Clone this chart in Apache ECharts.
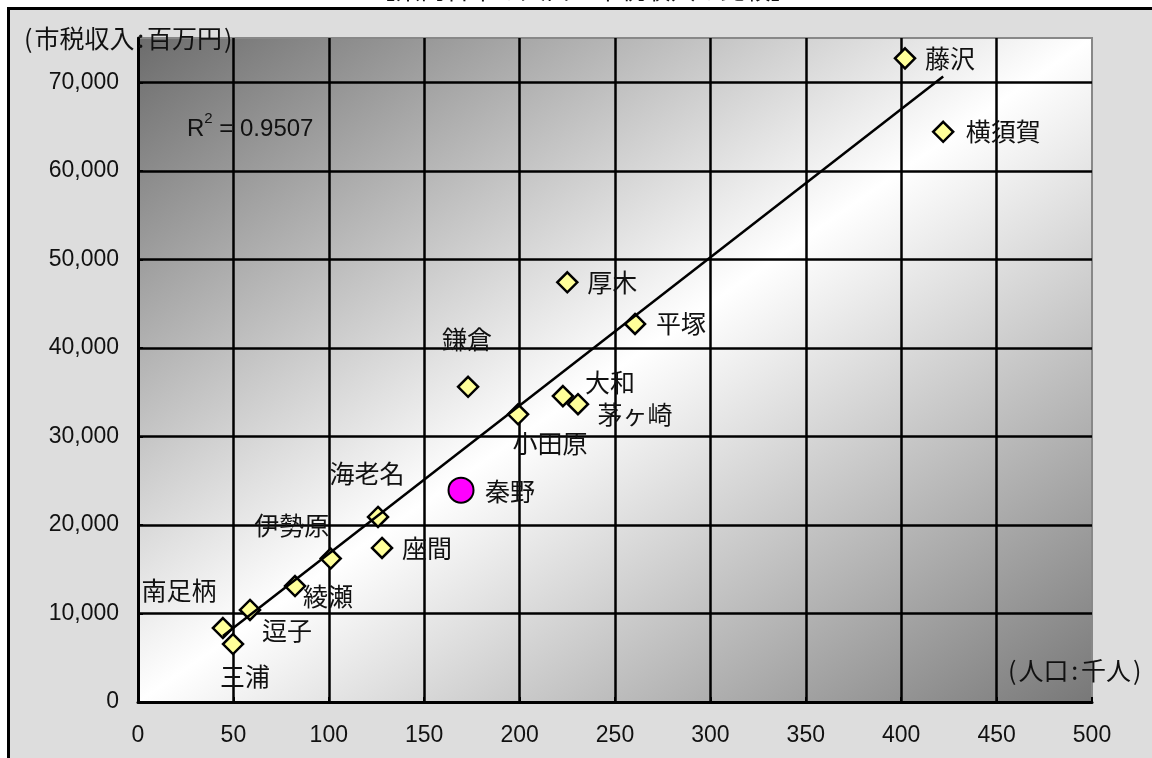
<!DOCTYPE html>
<html>
<head>
<meta charset="utf-8">
<script src="https://cdn.jsdelivr.net/npm/echarts@6/dist/echarts.min.js"></script>
<style>
  html, body { margin: 0; padding: 0; background: #ffffff; }
  #chart { width: 1152px; height: 758px; }
</style>
</head>
<body>
<div id="chart"></div>
<script>
// 県内各市：人口（千人）と市税収入（百万円）
const cities      = ['藤沢', '横須賀', '厚木', '平塚', '鎌倉', '大和', '茅ヶ崎', '小田原', '海老名', '座間', '伊勢原', '綾瀬', '逗子', '南足柄', '三浦'];
const population  = [402, 422, 225, 260.5, 173, 222.7, 230.6, 199.2, 125.8, 127.9, 101, 82.3, 58.7, 44.5, 49.8];
const taxRevenue  = [72700, 64400, 47400, 42700, 35600, 34550, 33640, 32500, 20900, 17400, 16200, 13100, 10400, 8350, 6550];

// 強調表示する市
const focusCity       = '秦野';
const focusPopulation = 169.3;
const focusTaxRevenue = 23930;

const rSquaredText = '0.9507';
const chartTitle   = '【県内各市の人口と市税収入の比較】';

// ラベルの位置（マーカー中心からのずれ, px）
const labelOffset = {
  '藤沢': [45, 0], '横須賀': [60, 0], '厚木': [45, 0], '平塚': [46, 0],
  '鎌倉': [-1, -47], '大和': [47, -14], '茅ヶ崎': [57, 10], '小田原': [32, 29],
  '海老名': [-11, -43], '座間': [45, 1], '伊勢原': [-39, -33], '綾瀬': [33, 10],
  '逗子': [37, 21], '南足柄': [-44, -38], '三浦': [12, 32]
};
const focusLabelOffset = [49, 1];

// 最小二乗法による近似直線
function linearFit(xs, ys) {
  const n = xs.length;
  const mx = xs.reduce((a, b) => a + b, 0) / n;
  const my = ys.reduce((a, b) => a + b, 0) / n;
  let sxy = 0, sxx = 0;
  for (let i = 0; i < n; i++) {
    sxy += (xs[i] - mx) * (ys[i] - my);
    sxx += (xs[i] - mx) * (xs[i] - mx);
  }
  const slope = sxy / sxx;
  return { slope, intercept: my - slope * mx };
}
const fit = linearFit(population, taxRevenue);
const xLo = Math.min(...population), xHi = Math.max(...population);
const trendData = [[xLo, fit.intercept + fit.slope * xLo], [xHi, fit.intercept + fit.slope * xHi]];

// プロット領域
const G = { left: 138, top: 38, right: 60, bottom: 56 };
const W = 1152, H = 758;
const pw = W - G.left - G.right, ph = H - G.top - G.bottom;

// 左上・右下が濃く、中央が白い斜めグラデーション
const cx = G.left + pw / 2, cy = G.top + ph / 2;
const len = Math.hypot(ph, pw);
const half = ((pw / 2) * ph + (ph / 2) * pw) / len;
const gdx = ph / len * half, gdy = pw / len * half;
const plotFill = new echarts.graphic.LinearGradient(
  cx - gdx, cy - gdy, cx + gdx, cy + gdy,
  [
    { offset: 0, color: '#6c6c6c' },
    { offset: 0.5, color: '#ffffff' },
    { offset: 1, color: '#787878' }
  ],
  true
);

const cjkFont = '"Noto Sans CJK JP", "Noto Sans", sans-serif';
const numFont = '"Liberation Sans", Arial, sans-serif';

const cityData = cities.map((name, i) => ({
  name,
  value: [population[i], taxRevenue[i]],
  label: { offset: labelOffset[name] }
}));

const halfWidth = { width: 12.5, align: 'center', fontSize: 25, fontFamily: cjkFont, fill: '#111' };

const chart = echarts.init(document.getElementById('chart'), null, { renderer: 'canvas' });
chart.setOption({
  animation: false,
  backgroundColor: 'transparent',
  grid: {
    left: G.left, top: G.top, right: G.right, bottom: G.bottom,
    containLabel: false,
    show: true,
    backgroundColor: plotFill,
    borderColor: '#888888',
    borderWidth: 2
  },
  xAxis: {
    type: 'value', min: 0, max: 500, interval: 50,
    axisLine: { show: true, onZero: false, lineStyle: { color: '#000', width: 3 } },
    axisTick: { show: true, inside: true, length: 5, lineStyle: { color: '#000', width: 2 } },
    axisLabel: { color: '#111', fontSize: 23, fontFamily: numFont, margin: 22 },
    splitLine: { show: true, showMinLine: false, showMaxLine: false, lineStyle: { color: '#000', width: 2.5 } }
  },
  yAxis: {
    type: 'value', min: 0, max: 75000, interval: 10000,
    axisLine: { show: true, onZero: false, lineStyle: { color: '#000', width: 3 } },
    axisTick: { show: true, inside: true, length: 5, lineStyle: { color: '#000', width: 2 } },
    axisLabel: {
      color: '#111', fontSize: 23, fontFamily: numFont, margin: 19,
      showMaxLabel: false,
      formatter: v => v.toLocaleString('en-US')
    },
    splitLine: { show: true, showMinLine: false, showMaxLine: false, lineStyle: { color: '#000', width: 2.5 } }
  },
  graphic: [
    {
      type: 'rect', z: -100, silent: true,
      shape: { x: 8.5, y: 8.5, width: 1300, height: 900 },
      style: { fill: '#dddddd', stroke: '#000000', lineWidth: 3 }
    },
    {
      type: 'text', z: -50, silent: true,
      style: {
        x: 583, y: 2, text: chartTitle,
        align: 'center', verticalAlign: 'bottom',
        font: '25px ' + cjkFont, fill: '#111'
      }
    },
    {
      type: 'text', z: 100, silent: true,
      style: {
        x: 22, y: 38, verticalAlign: 'middle',
        text: '{h|(}市税収入{h|:}百万円{h|)}',
        font: '25px ' + cjkFont, fill: '#111',
        rich: { h: halfWidth }
      }
    },
    {
      type: 'text', z: 100, silent: true,
      style: {
        x: 1006, y: 670, verticalAlign: 'middle',
        text: '{h|(}人口{h|:}千人{h|)}',
        font: '25px ' + cjkFont, fill: '#111',
        rich: { h: halfWidth }
      }
    },
    {
      type: 'text', z: 100, silent: true,
      style: {
        x: 187, y: 126, verticalAlign: 'middle',
        text: '{r|R}{s|2}{r| = ' + rSquaredText + '}',
        rich: {
          r: { fontSize: 24, fontFamily: numFont, fill: '#111', lineHeight: 30, verticalAlign: 'bottom' },
          s: { fontSize: 15, fontFamily: numFont, fill: '#111', verticalAlign: 'top' }
        }
      }
    }
  ],
  series: [
    {
      name: '各市',
      type: 'scatter',
      z: 2,
      symbol: 'diamond',
      symbolSize: 20,
      itemStyle: { color: '#ffff99', borderColor: '#000', borderWidth: 2.5, opacity: 1 },
      label: {
        show: true, position: 'inside',
        formatter: p => p.name,
        fontSize: 25, fontFamily: cjkFont, color: '#111'
      },
      data: cityData
    },
    {
      name: focusCity,
      type: 'scatter',
      z: 2,
      symbol: 'circle',
      symbolSize: 25,
      itemStyle: { color: '#ff00ff', borderColor: '#000', borderWidth: 2, opacity: 1 },
      label: {
        show: true, position: 'inside', offset: focusLabelOffset,
        formatter: p => p.name,
        fontSize: 25, fontFamily: cjkFont, color: '#111'
      },
      data: [{ name: focusCity, value: [focusPopulation, focusTaxRevenue] }]
    },
    {
      name: '近似直線',
      type: 'line',
      z: 3,
      showSymbol: false,
      symbol: 'none',
      silent: true,
      lineStyle: { color: '#000', width: 2.5 },
      data: trendData
    }
  ]
});
</script>
</body>
</html>
